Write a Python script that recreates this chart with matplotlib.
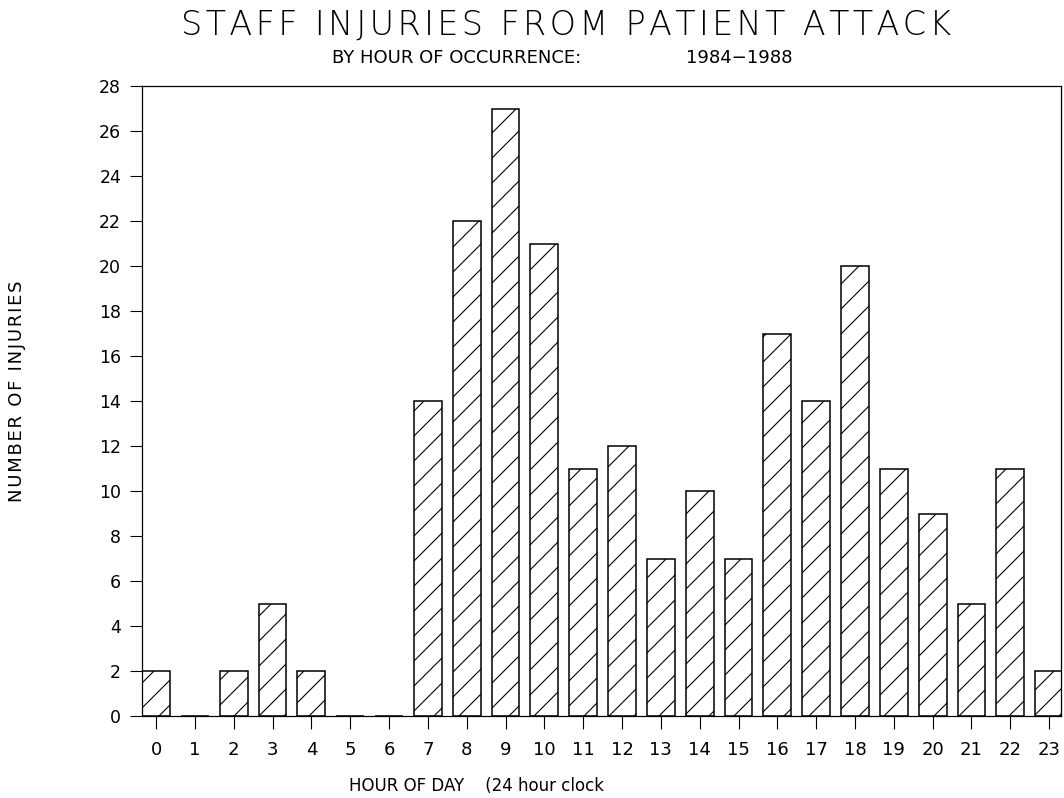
import matplotlib.pyplot as plt
import matplotlib as mpl

hours = list(range(24))
injuries = [2, 0, 2, 5, 2, 0, 0, 14, 22, 27, 21, 11, 12, 7, 10, 7, 17, 14, 20, 11, 9, 5, 11, 2]
yticks = list(range(0, 29, 2))

# hatch spacing in Agg is tied to dpi, so draw at 75 dpi and scale sizes
DPI = 75
k = 100 / DPI

mpl.rcParams['hatch.linewidth'] = 0.8 * k
mpl.rcParams['font.family'] = ['DejaVu Sans']

fig = plt.figure(figsize=(1064 / DPI, 798 / DPI), dpi=DPI)
ax = fig.add_axes([0.1335, 0.1028, 0.8635, 0.7892])

ax.bar(hours, injuries, width=0.72, color='white', edgecolor='black',
       linewidth=1.1 * k, hatch='/')

ax.set_xlim(-0.36, 23.3)
ax.set_ylim(0, 28)
ax.set_xticks(hours)
ax.set_xticklabels([str(h) for h in hours], fontsize=13 * k)
ax.set_yticks(yticks)
ax.set_yticklabels([str(t) for t in yticks], fontsize=12.5 * k)
ax.tick_params(axis='x', direction='out', length=9 * k, width=0.8 * k, pad=9 * k)
ax.tick_params(axis='y', direction='out', length=9 * k, width=0.8 * k, pad=6 * k)
for s in ax.spines.values():
    s.set_linewidth(0.9 * k)

hs = '\u200a'
title = hs.join('STAFF INJURIES FROM PATIENT ATTACK')
fig.text(0.532, 0.968, title, ha='center', va='center',
         fontsize=24 * k, fontweight='light')
fig.text(0.312, 0.927, 'BY HOUR OF OCCURRENCE:', ha='left', va='center', fontsize=13 * k)
fig.text(0.645, 0.927, '1984\u22121988', ha='left', va='center', fontsize=13 * k)
fig.text(0.016, 0.51, hs.join('NUMBER OF INJURIES'), rotation=90, ha='center', va='center',
         fontsize=13 * k)
fig.text(0.328, 0.015, 'HOUR OF DAY    (24 hour clock', ha='left', va='center',
         fontsize=12 * k)

fig.savefig('out.png', dpi=DPI)
